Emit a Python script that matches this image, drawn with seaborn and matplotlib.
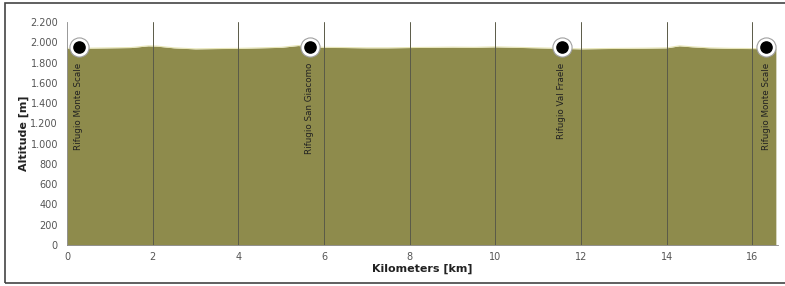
import matplotlib
matplotlib.use("Agg")
import matplotlib.pyplot as plt
import matplotlib.ticker as mticker
from matplotlib.patches import Rectangle
import seaborn as sns
import pandas as pd

# elevation profile
km = [0, 0.5, 1, 1.5, 1.9, 2.1, 2.5, 3, 3.5, 4, 4.5, 5, 5.4, 5.6, 6, 6.5, 7, 7.5,
      8, 8.5, 9, 9.5, 10, 10.5, 11, 11.5, 12, 12.5, 13, 13.5, 14, 14.3, 14.6, 15,
      15.5, 16, 16.55]
altitude = [1940, 1942, 1945, 1948, 1965, 1962, 1945, 1935, 1938, 1940, 1945, 1950,
            1968, 1960, 1950, 1948, 1945, 1945, 1948, 1950, 1952, 1950, 1955, 1950,
            1945, 1940, 1935, 1938, 1940, 1942, 1945, 1965, 1955, 1945, 1940, 1938,
            1935]

# huts along the route
hut_km = [0.27, 5.67, 11.55, 16.33]
hut_alt = [1950, 1950, 1950, 1950]
hut_names = ["Rifugio Monte Scale", "Rifugio San Giacomo", "Rifugio Val Fraele",
             "Rifugio Monte Scale"]

x_ticks = [0, 2, 4, 6, 8, 10, 12, 14, 16]
y_ticks = [0, 200, 400, 600, 800, 1000, 1200, 1400, 1600, 1800, 2000, 2200]

df = pd.DataFrame({"km": km, "alt": altitude})

sns.set_style("white")
plt.rcParams["font.family"] = ["DejaVu Sans"]

fig = plt.figure(figsize=(7.85, 2.86), dpi=100)
ax = fig.add_axes([67 / 785, 1 - 245 / 286, (778 - 67) / 785, (245 - 22) / 286])

olive = "#8e8b4c"
ax.fill_between(df["km"], df["alt"], 0, color=olive, lw=0, zorder=1)
sns.lineplot(data=df, x="km", y="alt", color="#e8e6b8", lw=0.8, ax=ax, zorder=2)

# vertical grid
for xt in x_ticks[1:]:
    ax.axvline(xt, color="#5a5a48", lw=0.7, zorder=3)

# hut markers
ax.scatter(hut_km, hut_alt, s=190, color="white", edgecolor="#a0a0a0", lw=0.8, zorder=4)
ax.scatter(hut_km, hut_alt, s=65, color="black", zorder=5)
for x, name in zip(hut_km, hut_names):
    ax.text(x, 1800, name, rotation=90, ha="center", va="top", fontsize=6.3,
            color="#222222", zorder=6)

ax.set_xlim(0, 16.6)
ax.set_ylim(0, 2200)
ax.set_xticks(x_ticks)
ax.set_yticks(y_ticks)
ax.yaxis.set_major_formatter(mticker.FuncFormatter(lambda v, p: f"{int(v):,}".replace(",", ".")))
ax.tick_params(labelsize=7, colors="#555555", length=3, width=0.6)
ax.tick_params(axis="x", pad=2)

for side in ["top", "right"]:
    ax.spines[side].set_visible(False)
for side in ["left", "bottom"]:
    ax.spines[side].set_color("#888888")
    ax.spines[side].set_linewidth(0.6)

ax.set_xlabel("Kilometers [km]", fontsize=8, fontweight="bold", color="#222222", labelpad=1)
ax.set_ylabel("Altitude [m]", fontsize=8, fontweight="bold", color="#222222", labelpad=1)

# outer frame
fig.patches.append(Rectangle((5 / 785, 3 / 286), 1 - 5 / 785 + 0.01, 1 - 6 / 286,
                             transform=fig.transFigure, fill=False,
                             edgecolor="#444444", lw=1.2))

fig.savefig("out.png", dpi=100)
